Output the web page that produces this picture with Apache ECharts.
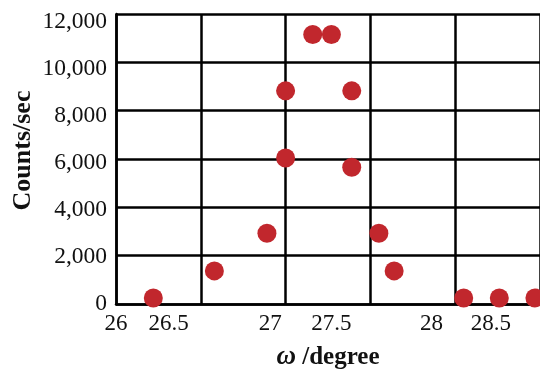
<!DOCTYPE html>
<html>
<head>
<meta charset="utf-8">
<script src="https://cdn.jsdelivr.net/npm/echarts@6/dist/echarts.min.js"></script>
<style>
  html, body { margin: 0; padding: 0; background: #fff; }
  #chart { width: 540px; height: 376px; }
</style>
</head>
<body>
<div id="chart"></div>
<script>
// omega (degree) and counts/sec
var omega  = [26.22, 26.58, 26.89, 27.00, 27.00, 27.16, 27.27, 27.39, 27.39, 27.55, 27.64, 28.05, 28.26, 28.47];
var counts = [250, 1370, 2930, 6040, 8820, 11150, 11150, 8820, 5660, 2930, 1370, 250, 250, 250];

// x tick labels sit off the grid lines in the original
var xTickLabels = ['26', '26.5', '27', '27.5', '28', '28.5'];
var xTickAt     = [26.0, 26.31, 26.91, 27.27, 27.86, 28.21];

var yTicks = [0, 2000, 4000, 6000, 8000, 10000, 12000];

var font = '"Liberation Serif", "Times New Roman", serif';
var chart = echarts.init(document.getElementById('chart'));

var points = omega.map(function (w, i) { return [w, counts[i]]; });

var option = {
  animation: false,
  grid: { left: 116, right: -2, top: 14, bottom: 67, containLabel: false },
  xAxis: [
    {
      type: 'value',
      min: 26, max: 28.5, interval: 0.5,
      axisLine: { show: true, onZero: false, lineStyle: { color: '#000', width: 2.5 } },
      axisTick: { show: false },
      axisLabel: { show: false },
      splitLine: { show: true, lineStyle: { color: '#000', width: 2.5 } },
      name: '{w|ω} /degree',
      nameLocation: 'middle',
      nameGap: 40,
      nameTextStyle: {
        fontFamily: font, fontSize: 25, fontWeight: 'bold', color: '#111',
        rich: { w: { fontFamily: font, fontSize: 27, fontWeight: 'bold', fontStyle: 'italic', color: '#111' } }
      }
    },
    {
      // label-only axis
      type: 'value',
      position: 'bottom',
      min: 26, max: 28.5,
      axisLine: { show: false },
      axisTick: { show: false },
      splitLine: { show: false },
      axisLabel: {
        customValues: xTickAt,
        formatter: function (v) {
          var k = xTickAt.indexOf(v);
          return k >= 0 ? xTickLabels[k] : '';
        },
        fontFamily: font, fontSize: 23, color: '#111', margin: 8
      }
    }
  ],
  yAxis: [
    {
      type: 'value',
      min: 0, max: 12000, interval: 2000,
      axisLine: { show: true, lineStyle: { color: '#000', width: 2.5 } },
      axisTick: { show: false },
      axisLabel: { show: false },
      splitLine: { show: true, lineStyle: { color: '#000', width: 2.5 } },
      name: 'Counts/sec',
      nameLocation: 'middle',
      nameGap: 80,
      nameTextStyle: { fontFamily: font, fontSize: 26, fontWeight: 'bold', color: '#111', padding: [0, 0, 0, 17] }
    },
    {
      // labels drift slightly from the grid lines in the original
      type: 'value',
      position: 'left',
      min: 0, max: 12321,
      axisLine: { show: false },
      axisTick: { show: false },
      splitLine: { show: false },
      axisLabel: {
        customValues: yTicks,
        formatter: function (v) { return yTicks.indexOf(v) >= 0 ? v.toLocaleString('en-US') : ''; },
        fontFamily: font, fontSize: 23.5, color: '#111', margin: 9
      }
    }
  ],
  series: [
    {
      type: 'scatter',
      data: points,
      symbolSize: 19,
      itemStyle: { color: '#C1272D', opacity: 1 },
      clip: false
    }
  ]
};

chart.setOption(option);
</script>
</body>
</html>
